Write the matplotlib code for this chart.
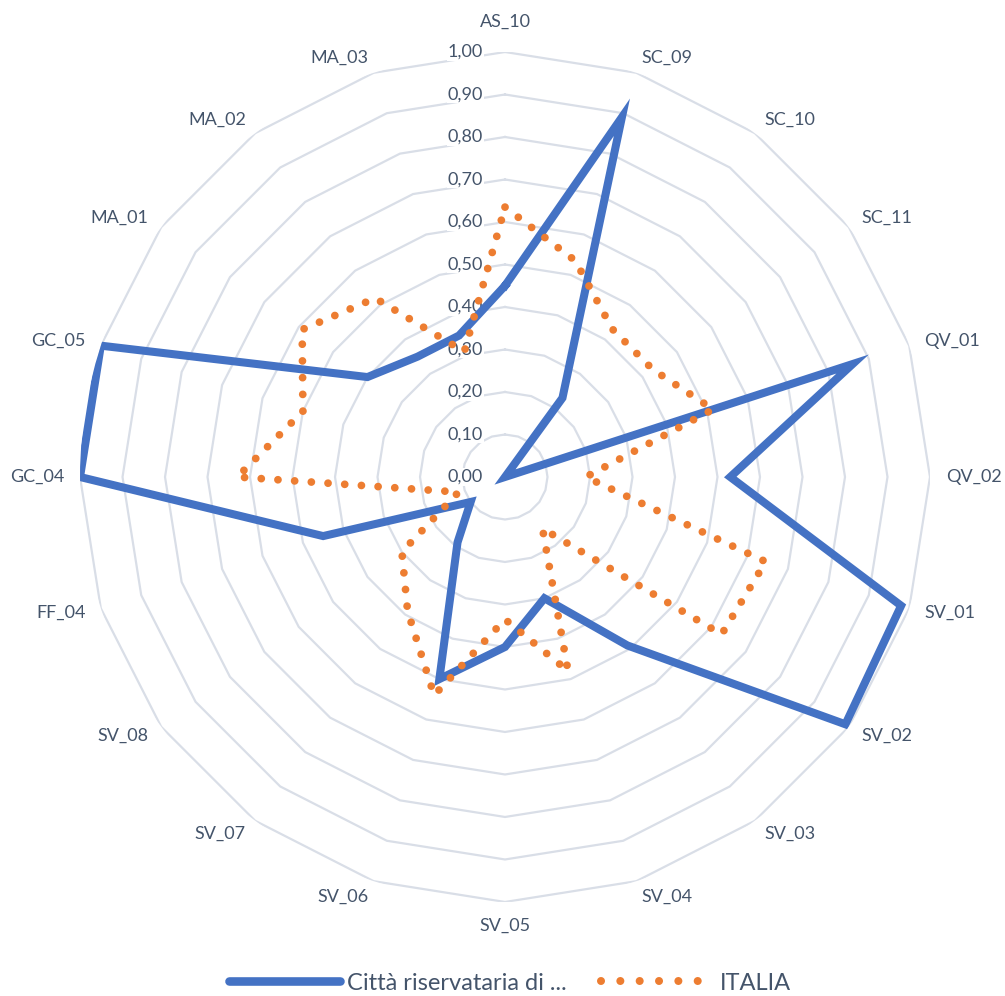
import numpy as np
import matplotlib
matplotlib.use("Agg")
import matplotlib.pyplot as plt
from matplotlib.lines import Line2D

# indicator codes, clockwise from the top
categories = ["AS_10", "SC_09", "SC_10", "SC_11", "QV_01", "QV_02", "SV_01", "SV_02",
              "SV_03", "SV_04", "SV_05", "SV_06", "SV_07", "SV_08", "FF_04", "GC_04",
              "GC_05", "MA_01", "MA_02", "MA_03"]

citta = [0.45, 0.89, 0.23, 0.00, 0.86, 0.53, 0.98, 0.99, 0.49, 0.30,
         0.40, 0.50, 0.19, 0.10, 0.45, 1.00, 1.00, 0.40, 0.35, 0.35]

italia = [0.635, 0.535, 0.43, 0.43, 0.515, 0.19, 0.645, 0.63, 0.15, 0.48,
          0.335, 0.54, 0.39, 0.30, 0.115, 0.63, 0.50, 0.59, 0.52, 0.31]

ticks = [0.0, 0.1, 0.2, 0.3, 0.4, 0.5, 0.6, 0.7, 0.8, 0.9, 1.0]

series_names = ["Città riservataria di ...", "ITALIA"]

BLUE = "#4472C4"
ORANGE = "#ED7D31"
TXT = "#44546A"
GRID = "#D9DEE7"
FONT = "Lato"

n = len(categories)
theta = np.arange(n) * 2 * np.pi / n
theta_c = np.append(theta, theta[0])

fig = plt.figure(figsize=(10.05, 9.96), dpi=100)
ax = fig.add_axes([0.0796, 0.0944, 0.8458, 0.8534], projection="polar")
ax.set_theta_zero_location("N")
ax.set_theta_direction(-1)
ax.set_ylim(0, 1)
ax.grid(False)
ax.spines["polar"].set_visible(False)
ax.set_xticks([])
ax.set_yticks([])

# polygon rings
for r in ticks[1:]:
    ax.plot(theta_c, [r] * (n + 1), color=GRID, lw=1.6, zorder=1)

# series
ax.plot(theta_c, citta + citta[:1], color=BLUE, lw=5.8, solid_joinstyle="miter", zorder=3)
ax.plot(theta_c, italia + italia[:1], color=ORANGE, lw=5.6,
        linestyle=(0, (0.001, 2.15)), dash_capstyle="round", zorder=4)

# value labels along the first spoke (above the rings, under the series)
for t in ticks:
    ax.annotate(f"{t:.2f}".replace(".", ","), xy=(0, t), xytext=(-22, 0),
                textcoords="offset pixels", ha="right", va="center",
                fontsize=13, color=TXT, family=FONT, zorder=2,
                bbox=dict(boxstyle="square,pad=0.05", fc="white", ec="none"))

# category labels
g = 16
for ang, lab in zip(theta, categories):
    s, c = np.sin(ang), np.cos(ang)
    if s > 0.01:
        ha = "left"
    elif s < -0.01:
        ha = "right"
    else:
        ha = "center"
    if abs(s) < 0.01:
        va = "bottom" if c > 0 else "top"
    else:
        va = "center"
    off = g + 6 if (abs(s) < 0.01 and c > 0) else g
    ax.annotate(lab, xy=(ang, 1.0), xytext=(off * s, off * c),
                textcoords="offset pixels", ha=ha, va=va,
                fontsize=13, color=TXT, family=FONT)

handles = [Line2D([], [], color=BLUE, lw=6.2, solid_capstyle="round"),
           Line2D([], [], color=ORANGE, lw=5.8, linestyle=(0, (0.001, 2.4)),
                  dash_capstyle="round")]
fig.legend(handles, series_names, loc="center", bbox_to_anchor=(510 / 1005, 13 / 996),
           ncol=2, frameon=False, handlelength=4.7, handletextpad=0.3,
           columnspacing=1.45, prop={"family": FONT, "size": 17}, labelcolor=TXT)

fig.savefig("out.png", dpi=100)
